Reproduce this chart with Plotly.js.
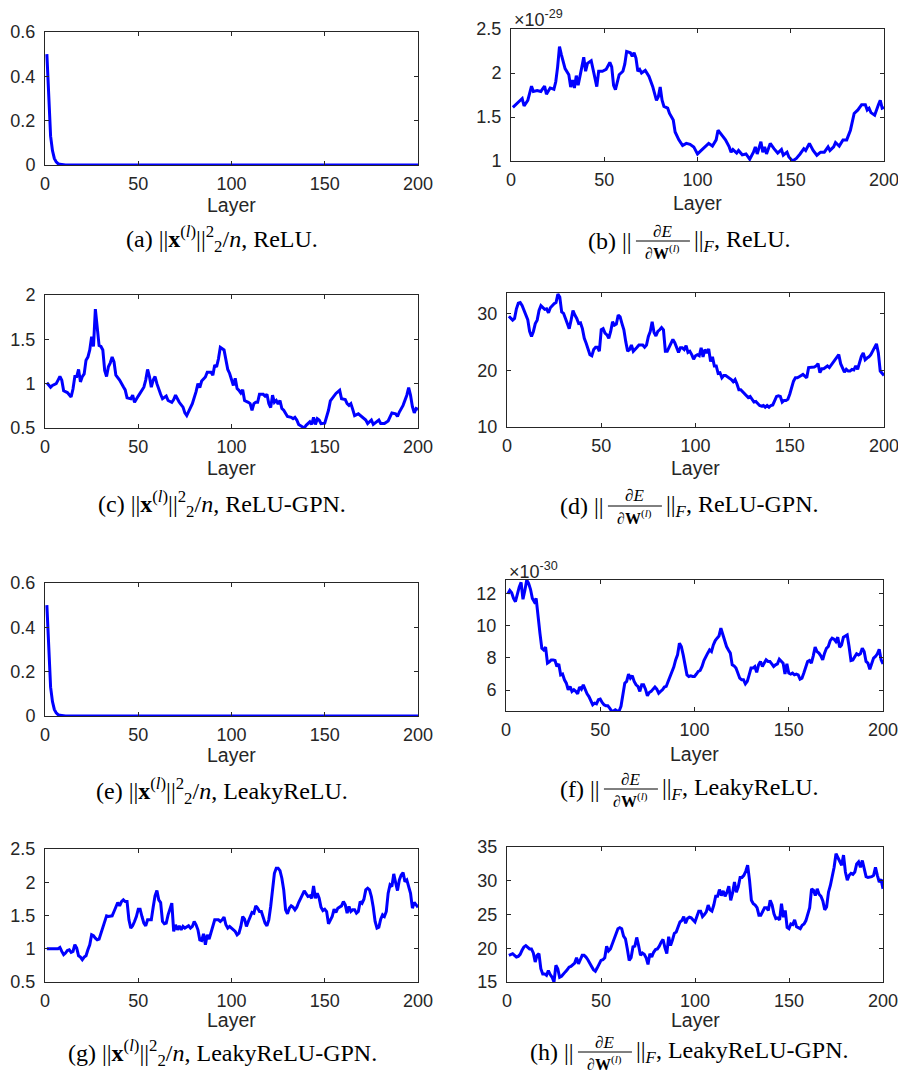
<!DOCTYPE html>
<html>
<head>
<meta charset="utf-8">
<script src="https://cdn.plot.ly/plotly-3.0.1.min.js"></script>
<style>html,body{margin:0;padding:0;background:#fff;}#chart{width:898px;height:1074px;}</style>
</head>
<body>
<div id="chart"></div>
<script>
// ---------------- DATA ----------------
// (a) ||x^(l)||^2/n, ReLU
const layerA = [1,2,3,4,5,6,7,8,9,10,11,200];
const normReLU = [0.5,0.28,0.13,0.065,0.03,0.014,0.006,0.003,0.001,0.0005,0,0];

// (b) ||dE/dW^(l)||_F, ReLU  (values in units of 1e-29)
const gradScaleB = -29;
const layerB = [1,3,5,6,7,9,11,12,14,16,18,19,21,23,24,25,26,27,29,31,32,33,34,35,36,38,39,40,41,43,45,46,47,49,51,53,54,55,56,58,60,61,62,64,65,66,67,68,69,70,72,74,76,78,79,80,81,82,84,85,87,88,90,92,94,96,98,100,102,104,106,108,110,111,113,115,117,118,119,121,122,124,126,128,130,131,132,134,135,136,137,139,141,143,145,146,148,149,151,153,155,157,158,160,162,164,166,168,170,171,173,174,176,178,180,182,184,186,188,190,191,192,193,195,197,198,199,200];
const gradReLU = [1.61,1.655,1.69,1.71,1.625,1.69,1.85,1.79,1.80,1.79,1.85,1.76,1.83,1.815,1.90,2.07,2.30,2.21,2.05,1.98,1.84,1.92,1.83,1.97,1.86,2.07,2.18,2.02,2.11,2.14,1.92,1.845,2.02,2.02,2.04,2.12,2.07,1.86,1.81,1.98,2.02,2.10,2.245,2.23,2.19,2.23,2.17,2.02,2.04,2.00,2.03,1.96,1.845,1.69,1.73,1.84,1.69,1.62,1.60,1.54,1.465,1.33,1.24,1.175,1.20,1.19,1.16,1.08,1.12,1.16,1.20,1.17,1.24,1.35,1.29,1.24,1.16,1.10,1.13,1.09,1.12,1.07,1.08,1.02,1.10,1.16,1.08,1.22,1.10,1.16,1.08,1.20,1.14,1.09,1.13,1.065,1.10,1.045,1.00,1.03,1.08,1.14,1.12,1.20,1.12,1.065,1.10,1.10,1.16,1.12,1.16,1.21,1.17,1.24,1.24,1.35,1.54,1.58,1.64,1.64,1.58,1.60,1.55,1.52,1.64,1.69,1.60,1.61];

// (c) ||x^(l)||^2/n, ReLU-GPN
const layerC = [1,2,3,4,6,7,8,9,10,12,13,14,15,16,17,18,19,20,21,22,23,24,25,26,27,28,29,30,31,32,33,34,35,36,37,38,40,42,43,44,46,47,48,50,52,53,54,55,56,57,58,59,60,61,62,63,65,66,68,69,70,71,72,74,75,76,77,79,81,82,83,84,86,87,89,90,91,92,93,94,96,97,98,99,100,101,102,103,104,105,106,107,109,110,111,112,113,114,115,117,118,119,120,121,122,123,124,125,126,127,128,129,130,132,133,134,135,136,138,139,140,141,142,143,144,145,146,147,148,150,151,152,153,155,156,158,159,161,162,163,164,165,166,168,170,172,173,175,176,178,179,180,182,184,185,186,188,189,190,192,194,195,196,197,198,199,200];
const normReLUGPN = [1.01,0.98,0.96,0.98,1.00,1.04,1.08,1.04,0.92,0.90,0.87,0.85,0.94,1.08,1.08,1.16,1.02,1.08,1.11,1.265,1.30,1.38,1.53,1.42,1.84,1.64,1.43,1.42,1.38,1.15,1.08,1.19,1.235,1.30,1.245,1.095,1.04,0.965,0.93,0.84,0.83,0.87,0.79,0.86,0.92,0.96,1.04,1.16,1.08,0.96,1.04,1.08,1.00,0.925,0.88,0.83,0.86,0.81,0.79,0.82,0.87,0.83,0.79,0.735,0.67,0.64,0.68,0.775,0.91,1.00,0.955,1.03,1.075,1.13,1.13,1.095,1.21,1.19,1.28,1.41,1.38,1.28,1.16,1.115,1.04,0.98,1.06,0.945,0.925,0.895,0.93,0.81,0.79,0.775,0.70,0.775,0.79,0.79,0.88,0.88,0.86,0.88,0.775,0.73,0.87,0.79,0.81,0.77,0.81,0.72,0.70,0.66,0.63,0.62,0.605,0.62,0.59,0.54,0.51,0.50,0.53,0.55,0.57,0.54,0.62,0.54,0.605,0.59,0.55,0.555,0.62,0.70,0.805,0.87,0.89,0.925,0.83,0.82,0.775,0.755,0.775,0.71,0.64,0.66,0.63,0.59,0.55,0.59,0.54,0.57,0.59,0.55,0.55,0.58,0.62,0.67,0.66,0.63,0.68,0.755,0.87,0.955,0.87,0.74,0.67,0.72,0.71];

// (d) ||dE/dW^(l)||_F, ReLU-GPN
const layerD = [1,2,3,4,5,6,7,8,9,10,11,12,13,14,15,16,17,18,19,20,21,22,23,24,25,26,27,28,29,30,31,32,33,34,35,36,37,38,39,40,41,42,43,44,45,46,47,48,49,50,51,52,53,54,55,56,57,58,59,60,61,62,63,64,65,66,67,68,69,70,72,73,74,75,76,77,78,79,80,81,82,83,84,85,86,88,89,90,91,92,93,94,95,96,97,98,99,100,101,102,103,104,105,106,107,108,109,110,111,112,113,114,115,116,118,119,120,121,122,123,124,125,126,127,128,129,130,131,132,133,134,135,136,137,138,139,140,141,142,143,144,145,146,147,148,149,150,151,152,153,154,155,156,157,158,159,160,161,162,163,164,165,166,167,168,169,170,171,172,173,174,175,176,177,178,179,180,181,182,183,184,185,186,187,188,189,190,191,192,193,194,195,196,197,198,199,200];
const gradReLUGPN = [29.6,29.3,28.9,29.2,30.9,31.9,32.0,31.5,30.6,29.6,29.0,26.9,26.0,26.9,28.3,28.9,30.6,31.45,31.1,30.8,30.9,30.2,31.1,31.5,31.8,32.0,33.5,33.0,30.35,30.1,29.2,28.3,27.4,28.9,30.6,29.8,29.2,28.3,28.4,27.4,25.7,24.8,23.7,22.8,22.6,23.7,24.1,24.1,23.4,27.2,27.4,26.6,26.3,25.7,26.9,28.6,28.0,28.2,29.8,29.5,28.3,27.2,25.1,23.4,23.7,24.5,23.4,23.7,24.1,24.5,24.5,24.1,24.5,26.0,26.9,28.6,26.7,26.1,26.9,27.2,27.6,27.2,23.4,23.4,24.1,25.5,24.9,24.0,23.2,24.0,24.0,23.7,24.4,23.2,23.4,22.8,22.0,22.6,22.8,22.6,24.0,22.4,23.7,23.1,23.8,21.6,22.4,20.8,20.8,19.5,19.6,18.7,19.1,19.1,18.7,18.4,18.0,18.4,17.6,16.6,16.6,16.2,16.0,15.6,15.2,15.4,14.8,14.4,14.5,14.1,13.8,13.7,13.8,13.5,13.8,13.5,13.8,13.9,14.7,15.4,15.5,15.4,14.4,14.7,14.7,14.9,15.8,17.0,18.1,18.7,18.7,18.9,19.1,19.3,19.0,18.7,20.5,20.5,20.5,20.6,20.8,21.2,19.6,20.3,20.3,20.6,20.8,20.5,21.0,21.5,22.0,22.4,22.8,21.2,20.3,19.7,20.2,19.9,19.9,20.2,20.1,20.8,20.2,21.3,22.5,23.1,21.9,22.2,22.4,22.8,23.4,24.2,24.7,23.1,19.9,19.5,19.1];

// (e) ||x^(l)||^2/n, LeakyReLU
const layerE = [1,2,3,4,5,6,7,8,9,10,11,200];
const normLeaky = [0.5,0.28,0.13,0.065,0.03,0.014,0.006,0.003,0.001,0.0005,0,0];

// (f) ||dE/dW^(l)||_F, LeakyReLU  (values in units of 1e-30)
const gradScaleF = -30;
const layerF = [];
for (let l = 1; l <= 200; l++) layerF.push(l);
const gradLeaky = [12.0,12.2,12.06,11.7,11.5,12.0,12.4,12.7,11.65,12.2,12.85,12.64,12.27,11.7,11.5,11.7,10.36,9.54,8.6,8.5,8.67,7.68,7.76,7.88,7.88,7.84,7.47,7.63,6.95,7.0,6.64,6.43,6.02,6.23,5.92,6.02,5.92,5.77,6.19,6.06,6.33,6.02,5.77,5.6,5.3,5.09,5.19,5.15,5.4,5.44,5.23,5.09,5.03,5.03,4.88,4.70,4.70,4.78,4.70,4.70,4.99,5.6,6.43,6.54,7.0,6.74,6.89,6.54,6.33,6.23,5.92,6.33,6.33,6.06,5.65,5.85,5.92,6.06,6.19,6.06,5.81,5.92,6.02,6.19,6.23,6.54,6.85,7.22,7.43,7.88,8.19,8.92,8.71,8.19,7.47,6.95,6.85,6.89,6.85,6.85,7.0,7.16,7.22,7.47,7.84,8.13,8.3,8.5,8.4,8.81,9.08,9.23,9.37,9.85,9.43,9.02,8.71,8.5,8.3,7.57,7.51,7.37,7.06,6.74,6.64,6.64,6.39,6.54,6.95,7.37,7.37,7.47,7.1,7.57,7.78,7.47,7.68,7.88,7.78,7.78,7.63,7.47,7.57,7.63,7.92,7.78,7.68,7.0,7.63,7.06,7.0,7.06,6.95,7.0,6.95,6.68,6.74,7.06,7.43,7.78,7.84,7.68,8.13,8.67,8.4,8.3,8.13,7.88,8.3,8.6,8.71,9.08,9.23,9.17,9.02,9.29,8.67,8.81,9.29,9.37,9.43,8.71,7.84,7.88,8.09,8.26,8.19,8.26,8.6,8.4,7.78,7.68,7.3,7.68,7.99,8.09,8.26,8.54,7.88,7.63];

// (g) ||x^(l)||^2/n, LeakyReLU-GPN
const layerG = [1,3,5,7,8,9,10,11,12,13,14,15,16,17,18,19,20,21,22,23,24,25,26,27,28,29,30,31,32,33,34,35,36,37,38,39,40,41,42,43,44,45,46,47,48,49,50,51,52,53,54,55,56,57,58,59,60,61,62,63,64,65,66,67,68,69,70,71,72,73,74,75,76,77,78,79,80,81,82,83,84,85,86,87,88,89,90,91,92,93,94,95,96,97,98,99,100,101,102,103,104,105,106,107,108,109,110,111,112,113,114,115,116,117,118,119,120,121,122,123,124,125,126,127,128,129,130,131,132,133,134,135,136,137,138,139,140,141,142,143,144,145,146,147,148,149,150,151,152,153,154,155,156,157,158,159,160,161,162,163,164,165,166,167,168,169,170,171,172,173,174,175,176,177,178,179,180,181,182,183,184,185,186,187,188,189,190,191,192,193,194,195,196,197,198,199,200];
const normLeakyGPN = [1.0,0.995,1.0,1.0,1.02,0.96,0.91,0.935,0.975,0.985,0.945,0.96,1.06,1.01,0.895,0.875,0.835,0.875,0.895,0.985,1.06,1.21,1.195,1.16,1.135,1.145,1.235,1.31,1.41,1.495,1.485,1.485,1.495,1.56,1.645,1.695,1.645,1.71,1.735,1.71,1.71,1.435,1.31,1.345,1.41,1.485,1.595,1.595,1.485,1.385,1.345,1.435,1.435,1.435,1.625,1.795,1.875,1.735,1.695,1.41,1.375,1.385,1.51,1.61,1.685,1.26,1.36,1.285,1.345,1.285,1.335,1.31,1.325,1.345,1.31,1.335,1.41,1.36,1.285,1.135,1.125,1.225,1.06,1.21,1.145,1.235,1.325,1.435,1.435,1.435,1.41,1.435,1.475,1.36,1.31,1.335,1.31,1.285,1.26,1.21,1.235,1.335,1.485,1.445,1.335,1.41,1.485,1.545,1.535,1.645,1.61,1.56,1.56,1.485,1.385,1.345,1.435,1.635,1.885,2.135,2.21,2.21,2.175,2.06,1.885,1.585,1.525,1.61,1.645,1.625,1.585,1.625,1.695,1.745,1.81,1.87,1.825,1.785,1.795,1.76,1.945,1.76,1.835,1.76,1.625,1.575,1.595,1.56,1.375,1.435,1.485,1.595,1.545,1.61,1.625,1.645,1.71,1.66,1.535,1.635,1.56,1.585,1.585,1.535,1.56,1.71,1.685,1.745,1.885,1.91,1.885,1.785,1.625,1.41,1.31,1.325,1.445,1.51,1.485,1.56,1.835,1.96,1.935,2.125,1.995,1.875,2.035,2.11,2.145,2.01,2.035,1.935,1.835,1.61,1.695,1.66,1.625];

// (h) ||dE/dW^(l)||_F, LeakyReLU-GPN
const layerH = layerF.slice();
const gradLeakyGPN = [18.95,19.1,19.2,18.95,18.7,18.8,19.1,19.7,20.2,20.4,20.2,19.9,19.9,19.3,17.96,18.95,19.2,16.97,16.2,16.2,15.99,16.7,16.1,15.7,15.0,17.47,16.97,15.7,15.84,16.1,16.5,16.8,17.2,17.3,17.6,17.8,18.6,17.7,18.3,18.95,18.95,18.7,18.3,17.7,17.3,16.8,16.6,17.1,17.7,18.2,18.3,18.6,20.3,19.6,19.9,20.6,21.4,22.2,22.9,23.05,22.9,21.8,21.4,19.9,18.2,18.6,20.2,20.3,21.6,20.4,18.95,19.3,19.1,18.6,17.6,19.2,18.7,19.4,19.8,19.9,20.3,20.9,21.3,20.1,19.2,21.7,20.4,21.2,22.2,22.4,23.05,23.9,24.1,24.7,23.7,24.4,24.6,24.5,24.2,23.9,24.7,25.5,25.5,24.7,25.0,25.4,26.4,25.7,25.5,26.4,27.7,27.7,28.7,27.8,28.5,27.7,28.3,29.2,27.1,28.2,29.8,28.3,29.1,30.5,30.5,30.8,31.4,32.3,30.1,27.1,26.6,26.4,26.0,24.9,24.9,25.5,26.0,26.0,25.6,27.1,26.4,25.1,24.4,24.5,24.2,26.6,24.6,25.6,23.1,22.9,23.6,23.5,24.2,23.2,23.05,22.9,23.4,23.6,24.1,24.9,26.0,28.8,28.6,27.8,28.8,28.0,27.7,27.0,25.7,26.1,28.3,29.3,30.6,32.0,34.0,33.5,32.8,32.3,33.8,31.3,30.1,30.8,31.1,30.95,31.3,32.5,32.8,32.0,33.0,31.6,30.6,30.5,30.5,30.6,30.8,32.0,30.8,29.8,30.2,28.8];

const captionLabels = ['(a)','(b)','(c)','(d)','(e)','(f)','(g)','(h)'];
const captionNets = ['ReLU','ReLU','ReLU-GPN','ReLU-GPN','LeakyReLU','LeakyReLU','LeakyReLU-GPN','LeakyReLU-GPN'];
const xTickVals = [0,50,100,150,200];
const xTitle = 'Layer';

// ---------------- LAYOUT ----------------
const W = 898, H = 1074;
const px = v => v / W;
const py = v => 1 - v / H;
const SANS = '"Liberation Sans", Arial, Helvetica, sans-serif';
const TICKFONT = {family: SANS, size: 18, color: '#262626'};
const SERIF = '"Liberation Serif", "Times New Roman", serif';
const NORM = '||';

const panels = [
  {x: layerA, y: normReLU,     px: [45, 418],  py: [32, 165],  yr: [0, 0.6],   yt: [0, 0.2, 0.4, 0.6], lay: 205, cap: 239, kind: 'x'},
  {x: layerB, y: gradReLU,     px: [511, 884], py: [29, 161],  yr: [1, 2.5],   yt: [1, 1.5, 2, 2.5],   lay: 203, cap: 241, kind: 'g', exp: gradScaleB, expY: 18},
  {x: layerC, y: normReLUGPN,  px: [45, 418],  py: [295, 428], yr: [0.5, 2],   yt: [0.5, 1, 1.5, 2],   lay: 468, cap: 504, kind: 'x'},
  {x: layerD, y: gradReLUGPN,  px: [507, 884], py: [293, 427], yr: [10, 33.7], yt: [10, 20, 30],       lay: 468, cap: 506, kind: 'g'},
  {x: layerE, y: normLeaky,    px: [45, 418],  py: [583, 716], yr: [0, 0.6],   yt: [0, 0.2, 0.4, 0.6], lay: 755, cap: 791, kind: 'x'},
  {x: layerF, y: gradLeaky,    px: [506, 883], py: [580, 711], yr: [4.7, 12.85], yt: [6, 8, 10, 12],   lay: 754, cap: 789, kind: 'g', exp: gradScaleF, expY: 570},
  {x: layerG, y: normLeakyGPN, px: [45, 418],  py: [849, 982], yr: [0.5, 2.5], yt: [0.5, 1, 1.5, 2, 2.5], lay: 1020, cap: 1053, kind: 'x'},
  {x: layerH, y: gradLeakyGPN, px: [507, 883], py: [847, 982], yr: [15, 35],   yt: [15, 20, 25, 30, 35], lay: 1020, cap: 1052, kind: 'g'}
];

const canvas = document.createElement('canvas');
const ctx = canvas.getContext('2d');
function textW(t, size) { ctx.font = size + 'px "Liberation Serif"'; return ctx.measureText(t).width; }

const data = [];
const layout = {
  width: W, height: H, margin: {l: 0, r: 0, t: 0, b: 0},
  paper_bgcolor: '#ffffff', plot_bgcolor: '#ffffff',
  showlegend: false, annotations: [], shapes: []
};

panels.forEach((p, i) => {
  const n = i + 1;
  const xa = 'x' + (n === 1 ? '' : n), ya = 'y' + (n === 1 ? '' : n);
  data.push({x: p.x, y: p.y, xaxis: xa, yaxis: ya, type: 'scatter', mode: 'lines',
             line: {color: '#0000ff', width: 3}, cliponaxis: true, hoverinfo: 'skip'});
  const common = {showline: true, linecolor: '#262626', linewidth: 1, mirror: 'ticks',
                  ticks: 'inside', ticklen: 4, tickwidth: 1, tickcolor: '#262626',
                  showgrid: false, zeroline: false, tickfont: TICKFONT, fixedrange: true,
                  ticklabeloverflow: 'allow'};
  layout['xaxis' + (n === 1 ? '' : n)] = Object.assign({}, common, {
    domain: [px(p.px[0]), px(p.px[1])], range: [0, 200], tickvals: xTickVals,
    anchor: ya, ticklabelstandoff: 2});
  layout['yaxis' + (n === 1 ? '' : n)] = Object.assign({}, common, {
    domain: [py(p.py[1]), py(p.py[0])], range: p.yr, tickvals: p.yt,
    anchor: xa, ticklabelstandoff: 5});

  const colCenter = p.px[0] < 200 ? 222 : 689;
  // "Layer" axis title
  layout.annotations.push({xref: 'paper', yref: 'paper', x: px((p.px[0] + p.px[1]) / 2), y: py(p.lay),
    text: xTitle, showarrow: false, xanchor: 'center', yanchor: 'middle',
    font: {family: SANS, size: 19.5, color: '#262626'}});

  if (p.kind === 'x') {
    layout.annotations.push({xref: 'paper', yref: 'paper', x: px(colCenter), y: py(p.cap),
      text: captionLabels[i] + ' ' + NORM + '<b>x</b><sup>(<i>l</i>)</sup>' + NORM + '<sup>2</sup><sub>2</sub>/<i>n</i>, ' + captionNets[i] + '.',
      showarrow: false, xanchor: 'center', yanchor: 'middle',
      font: {family: SERIF, size: 24, color: '#000'}});
  } else {
    const leftT = captionLabels[i] + ' ' + NORM;
    const rightT = NORM + ', ' + captionNets[i] + '.';
    const wL = textW(leftT, 24), wR = textW(rightT, 24) + textW('F', 17);
    const wF = 54, gap = 2;
    const total = wL + gap + wF + gap + wR;
    const x0 = colCenter - total / 2;
    const fL = x0 + wL + gap, fR = fL + wF;
    layout.annotations.push({xref: 'paper', yref: 'paper', x: px(fL - gap), y: py(p.cap),
      text: leftT, showarrow: false, xanchor: 'right', yanchor: 'middle',
      font: {family: SERIF, size: 24, color: '#000'}});
    layout.annotations.push({xref: 'paper', yref: 'paper', x: px(fR + gap), y: py(p.cap),
      text: NORM + '<sub><i>F</i></sub>, ' + captionNets[i] + '.', showarrow: false, xanchor: 'left', yanchor: 'middle',
      font: {family: SERIF, size: 24, color: '#000'}});
    layout.annotations.push({xref: 'paper', yref: 'paper', x: px((fL + fR) / 2), y: py(p.cap - 10),
      text: '∂<i>E</i>', showarrow: false, xanchor: 'center', yanchor: 'middle',
      font: {family: SERIF, size: 17, color: '#000'}});
    layout.annotations.push({xref: 'paper', yref: 'paper', x: px((fL + fR) / 2), y: py(p.cap + 11),
      text: '∂<b>W</b><sup>(<i>l</i>)</sup>', showarrow: false, xanchor: 'center', yanchor: 'middle',
      font: {family: SERIF, size: 16, color: '#000'}});
    layout.shapes.push({type: 'line', xref: 'paper', yref: 'paper',
      x0: px(fL), x1: px(fR), y0: py(p.cap), y1: py(p.cap), line: {color: '#000', width: 1}});
  }
  if (p.exp !== undefined) {
    layout.annotations.push({xref: 'paper', yref: 'paper', x: px(p.px[0] + 1), y: py(p.expY),
      text: '×10<sup>' + p.exp + '</sup>', showarrow: false, xanchor: 'left', yanchor: 'middle',
      font: {family: SANS, size: 18, color: '#262626'}});
  }
});

Plotly.newPlot('chart', data, layout, {staticPlot: true, displayModeBar: false});
</script>
</body>
</html>
